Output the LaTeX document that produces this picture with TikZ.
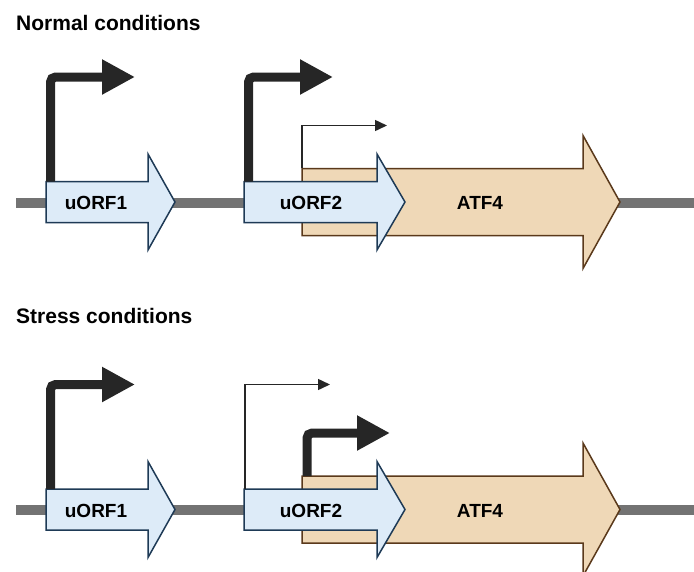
\documentclass[tikz,border=0pt]{standalone}
\usepackage{fontspec}
\setmainfont{Liberation Sans}
\usetikzlibrary{arrows.meta}
\definecolor{orfblue}{HTML}{DDEBF8}
\definecolor{orfedge}{HTML}{1E3A56}
\definecolor{atffill}{HTML}{EFD8B7}
\definecolor{atfedge}{HTML}{5A391B}
\definecolor{dnagray}{HTML}{737373}
\definecolor{promcol}{HTML}{262626}
% #1 style, #2 left x, #3 shaft end x, #4 tip x, #5 centre y, #6 half body, #7 half head
\newcommand{\genearrow}[7]{%
  \path[#1] ({#2},{#5-#6}) -- ({#3},{#5-#6}) -- ({#3},{#5-#7}) -- ({#4},{#5})
    -- ({#3},{#5+#7}) -- ({#3},{#5+#6}) -- ({#2},{#5+#6}) -- cycle;}
\tikzset{
  orf/.style={fill=orfblue, draw=orfedge, line width=1.5pt, line join=miter},
  atf/.style={fill=atffill, draw=atfedge, line width=1.5pt, line join=miter},
  dnaline/.style={draw=dnagray, line width=10pt},
  strongprom/.style={draw=promcol, line width=9pt, rounded corners=5pt,
     -{Triangle[length=33pt,width=33pt]}},
  weakprom/.style={draw=promcol, line width=1.5pt,
     -{Triangle[length=12pt,width=11pt]}},
  genelabel/.style={font=\fontsize{19}{21}\selectfont\bfseries, anchor=base, inner sep=0pt},
  titlelabel/.style={font=\fontsize{21}{24}\selectfont\bfseries, anchor=base west, inner sep=0pt}
}
\begin{document}
\begin{tikzpicture}[x=1pt, y=-1pt]
\useasboundingbox (0,0) rectangle (694,571);

% ---------------- Normal conditions ----------------
\node[titlelabel] (t1) at (16,30) {Normal conditions};
\coordinate (d1a) at (16,202.5);
\coordinate (d1b) at (694,202.5);
\draw[dnaline] (d1a) -- (d1b);
\genearrow{atf}{302}{583}{620}{202}{33.5}{66.5}
\genearrow{orf}{46}{148}{175}{202}{20.5}{48}
\genearrow{orf}{244}{377}{405}{202}{20.5}{48}
\node[genelabel] (n1u1) at (96,209.5) {uORF1};
\node[genelabel] (n1u2) at (311,209.5) {uORF2};
\node[genelabel] (n1a) at (480,209.5) {ATF4};
\coordinate (p1a) at (50.5,181.5);
\coordinate (p1b) at (135,77);
\draw[strongprom] (p1a) |- (p1b);
\coordinate (p2a) at (248.5,181.5);
\coordinate (p2b) at (333,77);
\draw[strongprom] (p2a) |- (p2b);
\coordinate (p3a) at (302,168);
\coordinate (p3b) at (387,125.5);
\draw[weakprom] (p3a) |- (p3b);

% ---------------- Stress conditions ----------------
\node[titlelabel] (t2) at (16,323) {Stress conditions};
\coordinate (d2a) at (16,510);
\coordinate (d2b) at (694,510);
\draw[dnaline] (d2a) -- (d2b);
\genearrow{atf}{302}{583}{620}{509.5}{33.5}{66.5}
\genearrow{orf}{46}{148}{175}{509.5}{20.5}{48}
\genearrow{orf}{244}{377}{405}{509.5}{20.5}{48}
\node[genelabel] (s1u1) at (96,517) {uORF1};
\node[genelabel] (s1u2) at (311,517) {uORF2};
\node[genelabel] (s1a) at (480,517) {ATF4};
\coordinate (q1a) at (50.5,489);
\coordinate (q1b) at (135,384.5);
\draw[strongprom] (q1a) |- (q1b);
\coordinate (q2a) at (245,489);
\coordinate (q2b) at (330,384.5);
\draw[weakprom] (q2a) |- (q2b);
\coordinate (q3a) at (307,476);
\coordinate (q3b) at (390,433);
\draw[strongprom] (q3a) |- (q3b);
\end{tikzpicture}
\end{document}
